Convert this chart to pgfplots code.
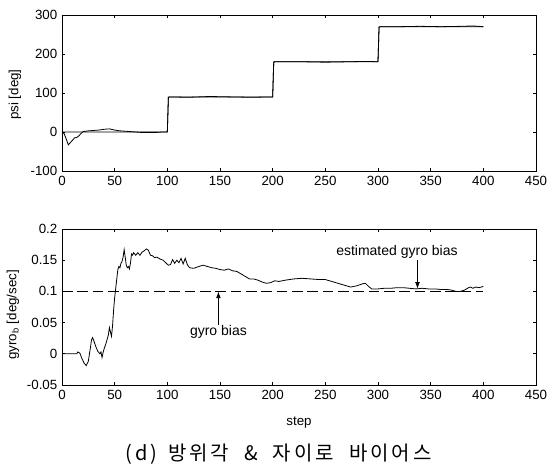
\documentclass[border=0pt]{standalone}
\usepackage{fontspec}
\setmainfont{Liberation Sans}
\newfontfamily\krfont[LetterSpace=15]{Noto Sans CJK KR}
\usepackage{pgfplots}
\pgfplotsset{compat=1.18}
\usetikzlibrary{arrows.meta}
\pgfplotsset{
  mystyle/.style={
    width=355.5pt, height=117pt, scale only axis,
    xmin=0, xmax=450, xtick={0,50,...,450},
    tick align=inside, major tick length=2.5pt,
    tick label style={font=\fontsize{10}{11}\selectfont},
    label style={font=\fontsize{10}{11}\selectfont},
    /pgf/number format/assume math mode=true,
    axis line style={line width=0.6pt},
    every tick/.style={line width=0.6pt, black},
    clip=false,
  }
}
\begin{document}
\begin{tikzpicture}
\path[use as bounding box] (-46.5pt,-222.75pt) rectangle (363.75pt,128.25pt);
\begin{axis}[mystyle, at={(0,0)}, anchor=south west,
  ymin=-100, ymax=300, ytick={-100,0,100,200,300},
  ylabel={psi [deg]},
  ylabel style={at={(axis description cs:-0.0992,0.49)}, anchor=center},
]
\addplot[black, line width=0.6pt] coordinates {
(0,0)(100,0)(101,90)(200,90)(201,180)(300,180)(301,270)(400,270)};
\addplot[black, line width=0.6pt] coordinates {
(0,0)(2,-4)(4,-18)(6,-33)(8,-27)(10,-21)(12,-15)(14,-14)(16,-10)(18,-4)(20,1)(25,3)(30,4)(35,5)(40,7)(45,8)(50,5)(55,3)(60,2)(65,1)(70,0)(75,-1)(80,-1)(85,-1)(90,-1)(95,0)(100,0)(101,88)(102,90)(120,89)(140,91)(160,90)(180,89)(199,90)(200,90)(201,178)(202,180)(230,180)(250,179)(270,180)(290,181)(300,180)(301,268)(302,270)(320,270)(340,271)(360,270)(380,271)(390,272)(400,270)};
\end{axis}
\begin{axis}[mystyle, at={(0,-160.5pt)}, anchor=south west,
  ymin=-0.05, ymax=0.2, ytick={-0.05,0,0.05,0.1,0.15,0.2},
  yticklabels={-0.05,0,0.05,0.1,0.15,0.2},
  ylabel={gyro$_{\mathrm{b}}$ [deg/sec]},
  ylabel style={at={(axis description cs:-0.1035,0.45)}, anchor=center},
  xlabel={step},
  xlabel style={at={(axis description cs:0.5,0)}, yshift=-28.5pt, anchor=center},
]
\addplot[black, line width=0.6pt, dash pattern=on 8pt off 3.5pt] coordinates {(0,0.1)(400,0.1)};
\addplot[black, line width=0.6pt] coordinates {
(0,0)(5,0)(10,0)(14,0)(15,0.003)(17,0.001)(19,-0.008)(21,-0.015)(23,-0.019)(25,-0.012)(27,0.01)(28,0.022)(29,0.026)(30,0.022)(32,0.012)(34,0.004)(36,0.0)(37,0.003)(38,-0.006)(39,0.002)(40,0.008)(42,0.018)(44,0.03)(45,0.042)(46,0.035)(47,0.028)(48,0.045)(49,0.07)(50,0.09)(51,0.105)(52,0.12)(53,0.135)(54,0.14)(55,0.138)(56,0.145)(57,0.148)(58,0.155)(59,0.167)(60,0.155)(61,0.142)(62,0.138)(63,0.14)(64,0.136)(65,0.145)(66,0.16)(67,0.158)(68,0.162)(70,0.158)(72,0.162)(74,0.158)(76,0.163)(78,0.165)(80,0.168)(82,0.166)(84,0.158)(86,0.157)(88,0.154)(90,0.155)(93,0.152)(96,0.15)(99,0.145)(101,0.142)(103,0.143)(105,0.151)(107,0.145)(109,0.15)(111,0.146)(113,0.153)(115,0.144)(117,0.153)(119,0.143)(121,0.138)(125,0.137)(130,0.14)(134,0.142)(138,0.14)(142,0.138)(146,0.137)(150,0.135)(154,0.134)(158,0.136)(162,0.133)(166,0.132)(170,0.128)(174,0.124)(178,0.12)(182,0.12)(186,0.118)(190,0.115)(194,0.113)(198,0.114)(202,0.117)(206,0.116)(212,0.118)(220,0.12)(228,0.121)(236,0.12)(244,0.119)(250,0.119)(256,0.116)(262,0.113)(268,0.11)(274,0.107)(280,0.109)(285,0.112)(288,0.113)(291,0.108)(294,0.104)(300,0.104)(306,0.105)(312,0.105)(318,0.106)(324,0.106)(330,0.105)(336,0.104)(342,0.105)(348,0.104)(354,0.104)(360,0.103)(366,0.103)(370,0.102)(374,0.1)(378,0.1)(382,0.102)(386,0.106)(388,0.107)(390,0.105)(393,0.107)(396,0.106)(400,0.108)};
\node[font=\fontsize{10.5}{12}\selectfont, anchor=center] at (axis cs:318,0.1636) {estimated gyro bias};
\draw[-{Latex[length=5pt,width=3.5pt]}, line width=0.6pt] (axis cs:337.5,0.1505) -- (axis cs:337.5,0.104);
\node[font=\fontsize{10.5}{12}\selectfont, anchor=center] at (axis cs:148.5,0.035) {gyro bias};
\draw[-{Latex[length=5pt,width=3.5pt]}, line width=0.6pt] (axis cs:148.5,0.046) -- (axis cs:148.5,0.1);
\end{axis}
\node[anchor=center] at (162.4pt,-212.25pt) {\fontsize{15}{17}\selectfont\krfont (d)\hspace{0.55em}방위각\hspace{0.75em}\&\hspace{0.75em}자이로\hspace{0.75em}바이어스};
\end{tikzpicture}
\end{document}
